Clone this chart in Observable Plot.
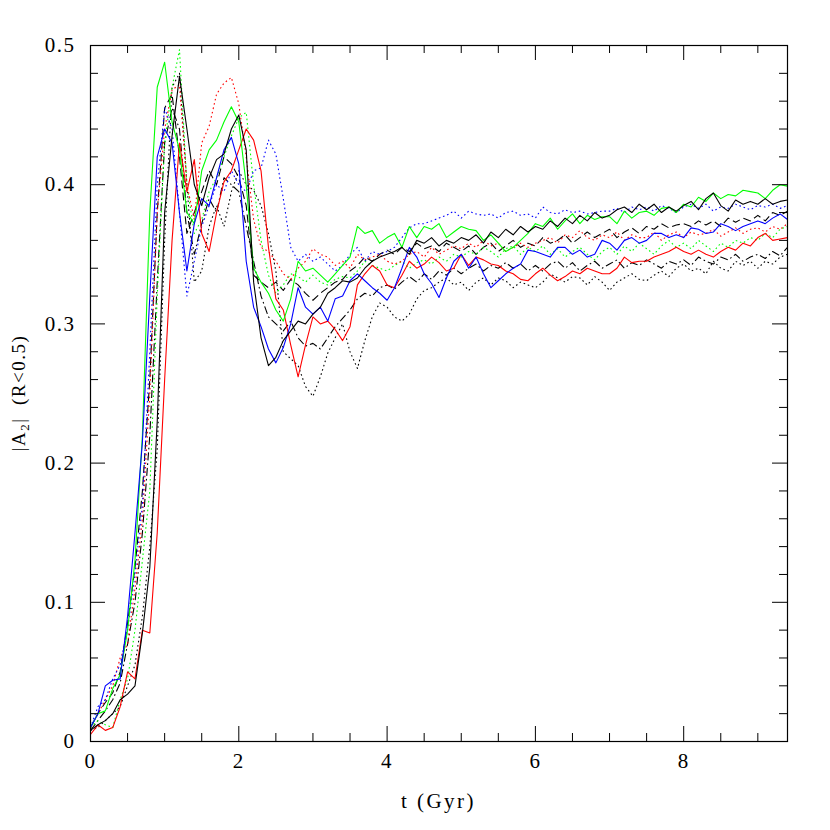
<!DOCTYPE html>
<html>
<head>
<meta charset="utf-8">
<script src="https://cdn.jsdelivr.net/npm/d3@7"></script>
<script src="https://cdn.jsdelivr.net/npm/@observablehq/plot@0.6"></script>
<style>
  body { margin: 0; background: #fff; }
  #chart svg { display: block; }
</style>
</head>
<body>
<div id="chart"></div>
<script>
const times = d3.range(95).map(i => i / 10);

const greenSolid = [
  0.010, 0.020, 0.022, 0.038, 0.048, 0.080, 0.130, 0.220, 0.380, 0.470,
  0.488, 0.445, 0.425, 0.380, 0.372, 0.410, 0.425, 0.432, 0.445, 0.456,
  0.445, 0.400, 0.340, 0.330, 0.322, 0.310, 0.302, 0.318, 0.345, 0.338,
  0.340, 0.335, 0.330, 0.336, 0.342, 0.348, 0.370, 0.365, 0.367, 0.358,
  0.362, 0.365, 0.355, 0.370, 0.362, 0.370, 0.368, 0.372, 0.362, 0.366,
  0.370, 0.368, 0.367, 0.360, 0.364, 0.358, 0.352, 0.355, 0.360, 0.365,
  0.372, 0.370, 0.376, 0.368, 0.374, 0.379, 0.372, 0.378, 0.375, 0.377,
  0.377, 0.372, 0.381, 0.376, 0.380, 0.381, 0.378, 0.383, 0.384, 0.380,
  0.386, 0.384, 0.391, 0.388, 0.394, 0.390, 0.393, 0.392, 0.396, 0.395,
  0.394, 0.390, 0.396, 0.400, 0.399
];
const greenDotted = [
  0.010, 0.015, 0.012, 0.010, 0.030, 0.045, 0.080, 0.130, 0.180, 0.320,
  0.430, 0.470, 0.497, 0.400, 0.365, 0.375, 0.395, 0.405, 0.420, 0.435,
  0.448, 0.452, 0.400, 0.360, 0.335, 0.322, 0.328, 0.336, 0.334, 0.330,
  0.335, 0.330, 0.328, 0.332, 0.334, 0.333, 0.338, 0.345, 0.342, 0.340,
  0.338, 0.342, 0.345, 0.340, 0.344, 0.346, 0.343, 0.348, 0.345, 0.350,
  0.348, 0.352, 0.350, 0.355, 0.352, 0.348, 0.354, 0.356, 0.350, 0.355,
  0.352, 0.356, 0.350, 0.354, 0.348, 0.352, 0.355, 0.350, 0.346, 0.352,
  0.355, 0.350, 0.356, 0.352, 0.358, 0.354, 0.350, 0.356, 0.360, 0.355,
  0.358, 0.354, 0.360, 0.356, 0.352, 0.358, 0.355, 0.360, 0.358, 0.362,
  0.360, 0.365, 0.362, 0.368, 0.370
];
const redSolid = [
  0.005, 0.012, 0.008, 0.010, 0.025, 0.050, 0.045, 0.080, 0.078, 0.150,
  0.260, 0.360, 0.430, 0.395, 0.418, 0.365, 0.352, 0.380, 0.402, 0.410,
  0.425, 0.440, 0.432, 0.410, 0.355, 0.318, 0.310, 0.285, 0.262, 0.285,
  0.305, 0.300, 0.302, 0.296, 0.288, 0.298, 0.328, 0.336, 0.342, 0.338,
  0.328, 0.326, 0.335, 0.345, 0.340, 0.343, 0.348, 0.344, 0.338, 0.340,
  0.350, 0.342, 0.348, 0.346, 0.343, 0.342, 0.338, 0.336, 0.332, 0.331,
  0.336, 0.340, 0.335, 0.331, 0.334, 0.338, 0.336, 0.340, 0.338, 0.336,
  0.336, 0.340, 0.348, 0.344, 0.345, 0.345, 0.348, 0.350, 0.352, 0.355,
  0.352, 0.350, 0.353, 0.350, 0.348, 0.352, 0.355, 0.353, 0.358, 0.356,
  0.362, 0.365, 0.360, 0.361, 0.362
];
const redDotted = [
  0.010, 0.020, 0.030, 0.040, 0.060, 0.070, 0.110, 0.160, 0.250, 0.380,
  0.440, 0.468, 0.472, 0.400, 0.375, 0.430, 0.442, 0.465, 0.473, 0.477,
  0.458, 0.420, 0.375, 0.355, 0.352, 0.345, 0.336, 0.332, 0.340, 0.345,
  0.354, 0.350, 0.348, 0.342, 0.345, 0.340, 0.350, 0.346, 0.348, 0.350,
  0.345, 0.343, 0.345, 0.350, 0.352, 0.348, 0.355, 0.350, 0.353, 0.356,
  0.354, 0.358, 0.355, 0.360, 0.356, 0.358, 0.352, 0.355, 0.358, 0.355,
  0.358, 0.360, 0.362, 0.358, 0.364, 0.362, 0.367, 0.362, 0.360, 0.364,
  0.362, 0.366, 0.360, 0.364, 0.362, 0.362, 0.366, 0.360, 0.364, 0.366,
  0.362, 0.366, 0.364, 0.365, 0.368, 0.363, 0.366, 0.369, 0.365, 0.368,
  0.369, 0.366, 0.370, 0.368, 0.372
];
const blueSolid = [
  0.010, 0.020, 0.040, 0.044, 0.045, 0.090, 0.150, 0.215, 0.320, 0.420,
  0.440, 0.430, 0.380, 0.338, 0.372, 0.390, 0.385, 0.405, 0.425, 0.434,
  0.415, 0.345, 0.312, 0.298, 0.282, 0.272, 0.283, 0.300, 0.326, 0.312,
  0.307, 0.312, 0.302, 0.318, 0.320, 0.331, 0.336, 0.331, 0.326, 0.322,
  0.317, 0.326, 0.340, 0.355, 0.348, 0.336, 0.329, 0.319, 0.333, 0.345,
  0.350, 0.340, 0.348, 0.336, 0.326, 0.331, 0.336, 0.340, 0.343, 0.353,
  0.352, 0.350, 0.348, 0.355, 0.355, 0.350, 0.353, 0.348, 0.350, 0.360,
  0.358, 0.353, 0.360, 0.362, 0.358, 0.360, 0.365, 0.365, 0.362, 0.364,
  0.362, 0.369, 0.368, 0.365, 0.366, 0.372, 0.370, 0.367, 0.370, 0.372,
  0.374, 0.372, 0.376, 0.379, 0.375
];
const blueDotted = [
  0.010, 0.025, 0.030, 0.045, 0.055, 0.080, 0.120, 0.170, 0.280, 0.400,
  0.455, 0.440, 0.380, 0.320, 0.345, 0.370, 0.385, 0.400, 0.395, 0.410,
  0.400, 0.395, 0.410, 0.412, 0.432, 0.422, 0.390, 0.355, 0.345, 0.350,
  0.345, 0.348, 0.343, 0.338, 0.342, 0.350, 0.355, 0.345, 0.352, 0.350,
  0.352, 0.355, 0.362, 0.369, 0.372, 0.372, 0.374, 0.376, 0.378, 0.381,
  0.376, 0.381, 0.379, 0.378, 0.379, 0.376, 0.380, 0.381, 0.378, 0.379,
  0.376, 0.384, 0.380, 0.379, 0.382, 0.380, 0.381, 0.379, 0.380, 0.381,
  0.381, 0.383, 0.380, 0.384, 0.382, 0.384, 0.381, 0.385, 0.383, 0.380,
  0.384, 0.386, 0.383, 0.386, 0.381, 0.384, 0.383, 0.386, 0.384, 0.382,
  0.385, 0.384, 0.386, 0.383, 0.385
];
const blackSolid = [
  0.008, 0.012, 0.015, 0.020, 0.030, 0.034, 0.040, 0.078, 0.125, 0.230,
  0.380, 0.435, 0.478, 0.440, 0.400, 0.385, 0.405, 0.418, 0.422, 0.440,
  0.450, 0.425, 0.330, 0.290, 0.270, 0.276, 0.288, 0.295, 0.302, 0.300,
  0.307, 0.312, 0.322, 0.326, 0.331, 0.330, 0.333, 0.340, 0.345, 0.348,
  0.350, 0.352, 0.355, 0.350, 0.360, 0.358, 0.362, 0.356, 0.360, 0.358,
  0.362, 0.360, 0.364, 0.358, 0.366, 0.362, 0.368, 0.364, 0.370, 0.366,
  0.370, 0.368, 0.374, 0.370, 0.376, 0.372, 0.378, 0.374, 0.380, 0.376,
  0.378, 0.382, 0.384, 0.380, 0.386, 0.382, 0.386, 0.380, 0.384, 0.381,
  0.385, 0.388, 0.382, 0.390, 0.394, 0.385, 0.381, 0.389, 0.386, 0.388,
  0.386, 0.390, 0.386, 0.388, 0.389
];
const blackDotted = [
  0.008, 0.010, 0.015, 0.020, 0.025, 0.040, 0.055, 0.090, 0.140, 0.210,
  0.360, 0.470, 0.480, 0.400, 0.330, 0.338, 0.370, 0.385, 0.370, 0.395,
  0.410, 0.400, 0.396, 0.385, 0.365, 0.338, 0.280, 0.275, 0.270, 0.255,
  0.248, 0.262, 0.279, 0.290, 0.300, 0.280, 0.268, 0.288, 0.305, 0.315,
  0.312, 0.305, 0.302, 0.307, 0.318, 0.324, 0.326, 0.330, 0.333, 0.328,
  0.330, 0.324, 0.330, 0.333, 0.328, 0.333, 0.331, 0.326, 0.330, 0.328,
  0.326, 0.330, 0.336, 0.333, 0.330, 0.334, 0.333, 0.328, 0.334, 0.330,
  0.324, 0.330, 0.333, 0.336, 0.332, 0.331, 0.335, 0.338, 0.334, 0.340,
  0.343, 0.338, 0.340, 0.336, 0.345, 0.340, 0.338, 0.345, 0.342, 0.345,
  0.340, 0.345, 0.343, 0.348, 0.350
];
const blackDashed = [
  0.010, 0.020, 0.028, 0.035, 0.050, 0.085, 0.125, 0.180, 0.260, 0.380,
  0.455, 0.465, 0.420, 0.365, 0.380, 0.395, 0.410, 0.400, 0.420, 0.415,
  0.405, 0.385, 0.335, 0.330, 0.326, 0.330, 0.324, 0.332, 0.328, 0.322,
  0.317, 0.322, 0.326, 0.330, 0.332, 0.338, 0.342, 0.348, 0.345, 0.350,
  0.353, 0.350, 0.355, 0.352, 0.358, 0.354, 0.356, 0.352, 0.358, 0.355,
  0.352, 0.356, 0.350, 0.355, 0.358, 0.352, 0.356, 0.360, 0.355, 0.358,
  0.356, 0.362, 0.358, 0.360, 0.364, 0.358, 0.362, 0.366, 0.362, 0.365,
  0.368, 0.362, 0.366, 0.369, 0.365, 0.370, 0.368, 0.372, 0.369, 0.371,
  0.372, 0.370, 0.374, 0.371, 0.374, 0.370, 0.376, 0.373, 0.376, 0.374,
  0.378, 0.374, 0.380, 0.378, 0.381
];
const blackDashDot = [
  0.008, 0.015, 0.022, 0.030, 0.042, 0.070, 0.100, 0.150, 0.220, 0.330,
  0.430, 0.455, 0.440, 0.380, 0.350, 0.372, 0.390, 0.380, 0.405, 0.400,
  0.395, 0.370, 0.345, 0.320, 0.305, 0.300, 0.295, 0.302, 0.290, 0.284,
  0.286, 0.282, 0.290, 0.298, 0.304, 0.310, 0.318, 0.322, 0.320, 0.326,
  0.328, 0.325, 0.330, 0.334, 0.330, 0.336, 0.332, 0.338, 0.335, 0.340,
  0.336, 0.340, 0.343, 0.338, 0.342, 0.340, 0.344, 0.340, 0.343, 0.338,
  0.342, 0.338, 0.343, 0.345, 0.340, 0.344, 0.338, 0.342, 0.345, 0.340,
  0.343, 0.346, 0.340, 0.344, 0.342, 0.346, 0.343, 0.340, 0.345, 0.343,
  0.346, 0.342, 0.348, 0.345, 0.343, 0.348, 0.346, 0.350, 0.345, 0.348,
  0.350, 0.347, 0.352, 0.349, 0.355
];

// Axis ticks
const xTickLabels = [0, 2, 4, 6, 8];
const yTickLabels = [0, 0.1, 0.2, 0.3, 0.4, 0.5];
const xMinorTicks = [0.5, 1, 1.5, 2.5, 3, 3.5, 4.5, 5, 5.5, 6.5, 7, 7.5, 8.5, 9];
const yMinorTicks = [0.02, 0.04, 0.06, 0.08, 0.12, 0.14, 0.16, 0.18, 0.22, 0.24, 0.26, 0.28,
                     0.32, 0.34, 0.36, 0.38, 0.42, 0.44, 0.46, 0.48];

// Series styling (kept separate from the values)
const seriesList = [
  {values: blackDotted,  stroke: "#000000", dash: "1.6,2.8"},
  {values: blackDashDot, stroke: "#000000", dash: "8,3,1.6,3"},
  {values: blackDashed,  stroke: "#000000", dash: "8,4"},
  {values: greenDotted,  stroke: "#00ff00", dash: "1.6,2.8"},
  {values: redDotted,    stroke: "#ff0000", dash: "1.6,2.8"},
  {values: blueDotted,   stroke: "#0000ff", dash: "1.6,2.8"},
  {values: redSolid,     stroke: "#ff0000", dash: null},
  {values: greenSolid,   stroke: "#00ff00", dash: null},
  {values: blueSolid,    stroke: "#0000ff", dash: null},
  {values: blackSolid,   stroke: "#000000", dash: null}
];

// ---- Layout ----
const W = 830, H = 830;
const mL = 90, mR = 43, mT = 45, mB = 89;
const innerW = W - mL - mR, innerH = H - mT - mB;
const majorLen = 15, minorLen = 8;
const FONT = "'Liberation Serif', 'DejaVu Serif', serif";

const lineMarks = seriesList.map(s =>
  Plot.line(times.map((t, i) => ({t, v: s.values[i]})), {
    x: "t", y: "v",
    stroke: s.stroke,
    strokeWidth: 1.1,
    strokeDasharray: s.dash,
    strokeLinejoin: "round",
    strokeLinecap: "butt"
  })
);

const tickStyle = {stroke: "#000", strokeWidth: 1};

const chart = Plot.plot({
  width: W, height: H,
  marginLeft: mL, marginRight: mR, marginTop: mT, marginBottom: mB,
  x: {domain: [0, 9.4]},
  y: {domain: [0, 0.5]},
  style: {fontFamily: FONT, fontSize: "21px", color: "#000", background: "#fff"},
  marks: [
    ...lineMarks,
    // inward ticks on all four sides
    Plot.tickX(xTickLabels, {x: d => d, insetTop: innerH - majorLen, ...tickStyle}),
    Plot.tickX(xTickLabels, {x: d => d, insetBottom: innerH - majorLen, ...tickStyle}),
    Plot.tickX(xMinorTicks, {x: d => d, insetTop: innerH - minorLen, ...tickStyle}),
    Plot.tickX(xMinorTicks, {x: d => d, insetBottom: innerH - minorLen, ...tickStyle}),
    Plot.tickY(yTickLabels, {y: d => d, insetRight: innerW - majorLen, ...tickStyle}),
    Plot.tickY(yTickLabels, {y: d => d, insetLeft: innerW - majorLen, ...tickStyle}),
    Plot.tickY(yMinorTicks, {y: d => d, insetRight: innerW - minorLen, ...tickStyle}),
    Plot.tickY(yMinorTicks, {y: d => d, insetLeft: innerW - minorLen, ...tickStyle}),
    Plot.axisX(xTickLabels, {anchor: "bottom", tickSize: 0, tickPadding: 12, fontSize: 21, label: null, tickFormat: d => String(d)}),
    Plot.axisY(yTickLabels, {anchor: "left", tickSize: 0, tickPadding: 15, fontSize: 21, label: null, tickFormat: d => d === 0 ? "0" : d.toFixed(1)}),
    Plot.frame({stroke: "#000", strokeWidth: 1.2})
  ]
});

document.getElementById("chart").appendChild(chart);

// letter spacing to mimic the wide plotting font
d3.select(chart).selectAll("g[aria-label='x-axis tick label'] text, g[aria-label='y-axis tick label'] text")
  .attr("letter-spacing", "1.5px");

// Axis titles
const svg = d3.select(chart);
svg.append("text")
  .attr("x", mL + innerW / 2)
  .attr("y", 808)
  .attr("text-anchor", "middle")
  .attr("font-family", FONT)
  .attr("font-size", 21)
  .attr("letter-spacing", "2.5px")
  .attr("fill", "#000")
  .text("t (Gyr)");

const yl = svg.append("text")
  .attr("transform", `translate(25,${mT + innerH / 2}) rotate(-90)`)
  .attr("text-anchor", "middle")
  .attr("font-family", FONT)
  .attr("font-size", 19)
  .attr("letter-spacing", "1.5px")
  .attr("fill", "#000");
yl.append("tspan").text("|A");
yl.append("tspan").attr("font-size", 13).attr("dy", 4).text("2");
yl.append("tspan").attr("dy", -4).text("|\u00a0\u00a0(R<0.5)");
</script>
</body>
</html>
